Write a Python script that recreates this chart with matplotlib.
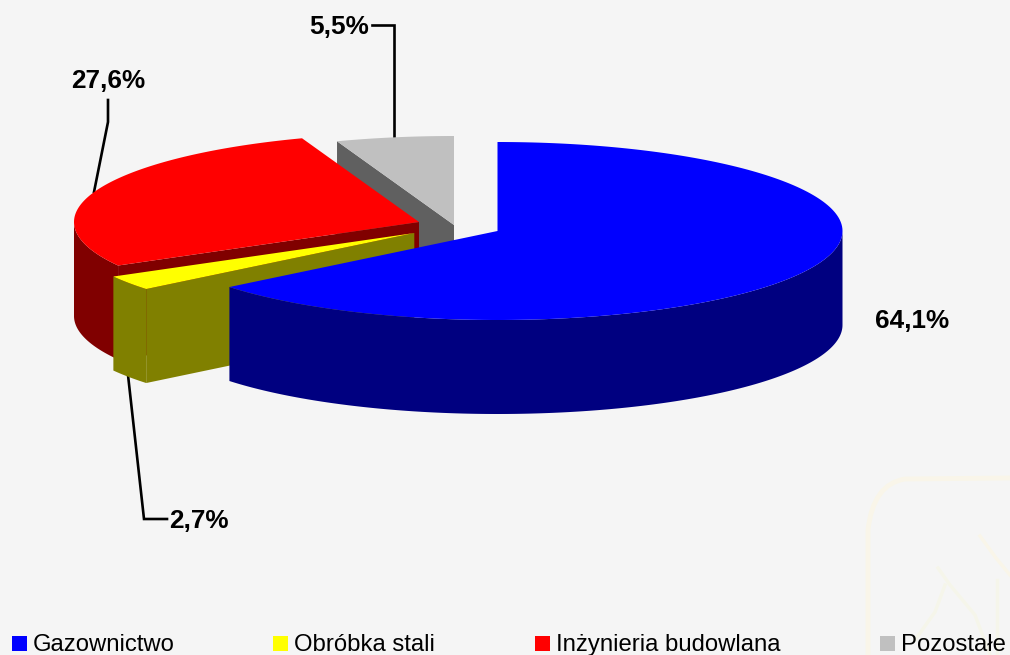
import numpy as np
import matplotlib
matplotlib.use("Agg")
import matplotlib.pyplot as plt
from matplotlib.patches import Rectangle
from matplotlib.path import Path
from matplotlib.patches import PathPatch

# --- data ---
categories = ["Gazownictwo", "Obróbka stali", "Inżynieria budowlana", "Pozostałe"]
shares = [64.1, 2.7, 27.6, 5.5]
value_labels = ["64,1%", "2,7%", "27,6%", "5,5%"]

# --- style / layout ---
top_colors = ["#0000FF", "#FFFF00", "#FF0000", "#C0C0C0"]
side_colors = ["#000080", "#808000", "#800000", "#606060"]
apexes = [(497.5, 231), (414.3, 233), (419, 222), (454, 225)]
RX, RY, DEPTH = 345, 89, 94
BG = "#F5F5F5"
FONT = "Liberation Sans"
label_pos = [(912, 321.5), (199, 520.5), (108, 81.5), (339, 27.5)]
leader_paths = [None,
                [(128, 375), (144, 519), (167, 519)],
                [(108, 100), (108, 122), (94, 192)],
                [(372, 25), (394, 25), (394, 137)]]
legend_box_x = [12, 273, 535, 880]
legend_text_x = [33, 294, 556, 901]

fig = plt.figure(figsize=(10.10, 6.55), dpi=100, facecolor=BG)
ax = fig.add_axes([0, 0, 1, 1])
ax.set_xlim(0, 1010)
ax.set_ylim(655, 0)
ax.axis("off")

# faint background watermark
wm = "#F9F5E9"
wm2 = "#F5F5EA"
verts = [(1010, 478), (905, 479), (873, 484), (868, 530), (868, 655)]
codes = [Path.MOVETO, Path.LINETO, Path.CURVE3, Path.CURVE3, Path.LINETO]
ax.add_patch(PathPatch(Path(verts, codes), fc="none", ec=wm, lw=3.5, zorder=0))
ax.plot([980, 996, 1010], [536, 558, 575], color=wm, lw=2.5, zorder=0)
ax.plot([938, 950, 975, 990], [568, 585, 615, 655], color=wm2, lw=2.5, zorder=0)
ax.plot([945, 935, 915], [585, 612, 640], color=wm2, lw=2.5, zorder=0)
ax.plot([997, 997], [580, 655], color=wm2, lw=2.5, zorder=0)

# leader lines
for path in leader_paths:
    if path:
        xs, ys = zip(*path)
        ax.plot(xs, ys, color="black", lw=1.9, solid_joinstyle="miter", zorder=1)


def rim(ap, a0, a1, n=200):
    t = np.radians(np.linspace(a0, a1, n))
    return ap[0] + RX * np.sin(t), ap[1] - RY * np.cos(t)


# slices are painted from the back of the pie to the front
angles = np.concatenate([[0], np.cumsum(shares) / np.sum(shares) * 360])
z = 2
for i in [3, 2, 1, 0]:
    a0, a1 = angles[i], angles[i + 1]
    ap = apexes[i]
    # cut face at the start angle
    ox, oy = rim(ap, a0, a0, 1)
    ax.fill([ap[0], ox[0], ox[0], ap[0]],
            [ap[1], oy[0], oy[0] + DEPTH, ap[1] + DEPTH],
            color=side_colors[i], lw=0, zorder=z)
    # visible part of the outer wall
    w0, w1 = max(a0, 90), min(a1, 270)
    if w1 > w0:
        wx, wy = rim(ap, w0, w1)
        ax.fill(np.r_[wx, wx[::-1]], np.r_[wy, wy[::-1] + DEPTH],
                color=side_colors[i], lw=0, zorder=z)
    # top face
    tx, ty = rim(ap, a0, a1)
    ax.fill(np.r_[ap[0], tx], np.r_[ap[1], ty], color=top_colors[i], lw=0, zorder=z + 0.5)
    z += 1

# value labels
for lab, (x, y) in zip(value_labels, label_pos):
    ax.text(x, y, lab, family=FONT, fontweight="bold", fontsize=18.8,
            ha="center", va="center", color="black", zorder=10)

# legend
for name, col, bx, tx in zip(categories, top_colors, legend_box_x, legend_text_x):
    ax.add_patch(Rectangle((bx, 636), 15, 15, fc=col, ec="none", zorder=10))
    ax.text(tx, 651, name, family=FONT, fontsize=17.2, ha="left", va="baseline",
            color="black", zorder=10)

fig.savefig("out.png", dpi=100, facecolor=BG)
